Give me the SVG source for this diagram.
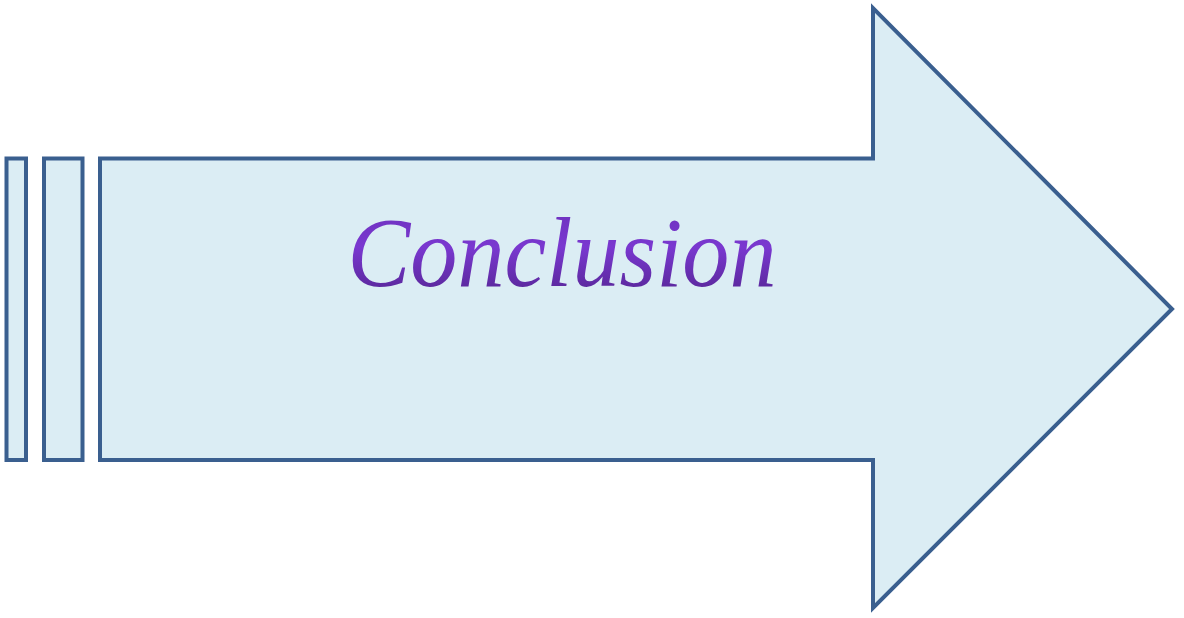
<svg xmlns="http://www.w3.org/2000/svg" width="1184" height="618" viewBox="0 0 1184 618">
<style>
.shape{fill:#DBEDF4;stroke:#3A5F8F;stroke-width:4;stroke-linejoin:miter}
.label{font-family:"Liberation Serif","Times New Roman",serif;font-style:italic;font-size:100px;fill:url(#tg)}
</style>
<defs>
<linearGradient id="tg" x1="0" y1="0" x2="0" y2="1">
<stop offset="0" stop-color="#6A30B8"/>
<stop offset="0.45" stop-color="#7A38D0"/>
<stop offset="1" stop-color="#4E2288"/>
</linearGradient>
</defs>
<rect width="1184" height="618" fill="#FFFFFF"/>
<g id="arrow">
<rect class="shape" x="6.5" y="158.5" width="19.5" height="301.5"/>
<rect class="shape" x="44" y="158.5" width="38.5" height="301.5"/>
<polygon class="shape" points="100,158.5 873,158.5 873,8 1172,309 873,608 873,460 100,460"/>
<text class="label" x="562" y="286" text-anchor="middle" textLength="429" lengthAdjust="spacingAndGlyphs">Conclusion</text>
</g>
</svg>
